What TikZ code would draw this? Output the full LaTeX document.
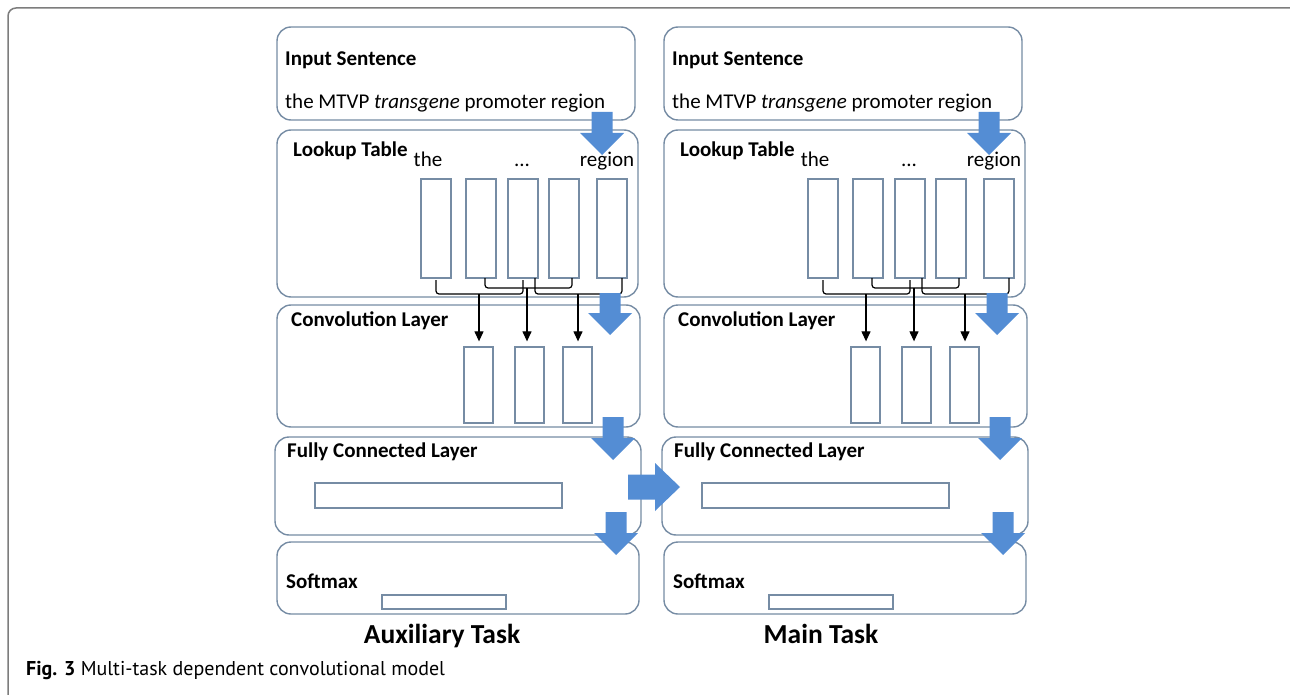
\documentclass[tikz,border=0pt]{standalone}
\usepackage{fontspec}
\setmainfont{Carlito}
\newfontfamily\capfont{PT Sans}
\usetikzlibrary{arrows.meta}
\definecolor{boxline}{RGB}{118,140,164}
\definecolor{flow}{RGB}{84,141,212}
\definecolor{frameline}{RGB}{125,125,125}
\tikzset{
  layer/.style={draw=boxline,line width=1.4pt,rounded corners=14pt,fill=white,inner sep=0pt},
  cell/.style={draw=boxline,line width=1.3pt,inner sep=0pt},
  title/.style={anchor=base west,inner sep=0pt,font=\fontsize{21}{25}\selectfont\bfseries},
  word/.style={anchor=base,inner sep=0pt,font=\fontsize{21}{25}\selectfont},
  brace/.style={black,line width=1.2pt,rounded corners=3pt},
  feed/.style={black,line width=1.2pt,-{Triangle[length=10pt,width=9pt]},shorten >=5pt}
}
% fat blue arrow: centre x, shaft top, tip
\newcommand{\downflow}[3]{%
  \fill[flow] ({#1-10.5},#2) -- ({#1+10.5},#2) -- ({#1+10.5},{#3-22}) -- ({#1+22},{#3-22})
    -- (#1,#3) -- ({#1-22},{#3-22}) -- ({#1-10.5},{#3-22}) -- cycle;}
\begin{document}
\begin{tikzpicture}[x=1pt,y=-1pt]
\useasboundingbox (0,0) rectangle (1290,695);
\draw[frameline,line width=1.5pt,rounded corners=8pt] (8,695) |- (1290,8);

\foreach \c/\s/\tx/\task in {aux/0/442/Auxiliary Task,main/387/434/Main Task}{
\begin{scope}[xshift=\s pt]
% layers
\node[layer,minimum width=358,minimum height=93] (in-\c) at (456,73.5) {};
\node[layer,minimum width=361,minimum height=167] (lut-\c) at (457.5,213.5) {};
\node[layer,minimum width=363,minimum height=122] (conv-\c) at (458.5,366) {};
\node[layer,minimum width=366,minimum height=98] (fc-\c) at (458,486) {};
\node[layer,minimum width=362,minimum height=72] (soft-\c) at (458,578) {};
% titles
\node[title] (in-t-\c) at (285,66) {Input Sentence};
\node[word,anchor=base west] (sent-\c) at (285,109) {the MTVP \textit{transgene} promoter region};
\node[title] (lut-t-\c) at (293,157) {Lookup Table};
\node[title] (conv-t-\c) at (291,326) {Convolution Layer};
\node[title] (fc-t-\c) at (287,457) {Fully Connected Layer};
\node[title] (soft-t-\c) at (286,588) {Softmax};
% lookup vectors
\foreach \x [count=\i] in {421,466,508,549,597}
  \node[cell,minimum width=30,minimum height=99] (lc\i-\c) at ({\x+15},228.5) {};
\node[word] (w1-\c) at (428,167) {the};
\node[word] (w3-\c) at (522,167) {...};
\node[word] (w5-\c) at (607,167) {region};
% conv vectors
\foreach \x [count=\i] in {464,515,563}
  \node[cell,minimum width=29,minimum height=76] (cc\i-\c) at ({\x+14.5},385) {};
\node[cell,minimum width=247,minimum height=25] (fcc-\c) at (438.5,495.5) {};
\node[cell,minimum width=124,minimum height=14] (sc-\c) at (444,602) {};
% windows
\draw[brace] (436,280) |- (523,294) -- (523,280);
\draw[brace] (485,278) |- (572,288) -- (572,278);
\draw[brace] (535,278) |- (622,294) -- (622,278);
\coordinate (s1-\c) at (479,294);
\coordinate (s2-\c) at (527,288);
\coordinate (s3-\c) at (578,294);
\foreach \i in {1,2,3}
  \draw[feed] (s\i-\c) -- (s\i-\c |- cc\i-\c.north);
% flow
\downflow{602}{112}{155}
\downflow{610}{293}{335}
\downflow{613}{417}{460}
\downflow{616}{512}{555}
\node[anchor=base,inner sep=0pt,font=\fontsize{27.5}{30}\selectfont\bfseries] (task-\c) at (\tx,643) {\task};
\end{scope}
}
% shared features
\fill[flow] (628,474.5) -- (655,474.5) -- (655,463) -- (680,487) -- (655,511) -- (655,499.5) -- (628,499.5) -- cycle;

\node[anchor=base west,inner sep=0pt,font=\capfont\fontsize{20}{24}\selectfont] (caption) at (26,675) {\textbf{Fig. 3} Multi-task dependent convolutional model};
\end{tikzpicture}
\end{document}
